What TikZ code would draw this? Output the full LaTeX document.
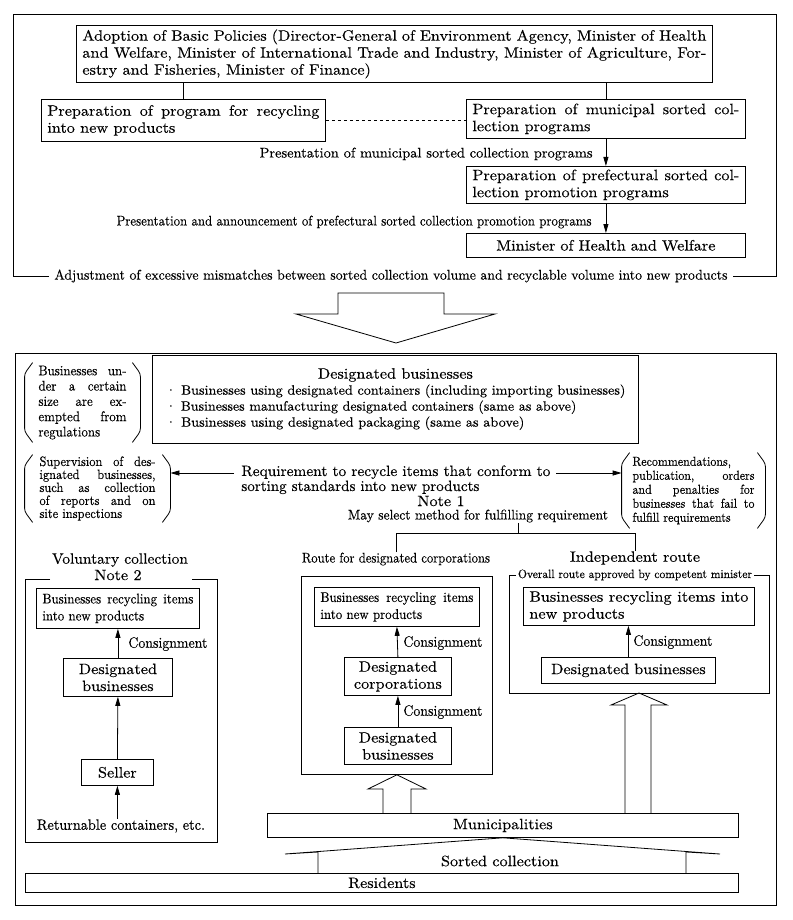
\documentclass[tikz,border=0pt]{standalone}
\usepackage{fontspec}
\usepackage{graphicx}
\usetikzlibrary{arrows.meta}
\setmainfont{lmroman10-regular.otf}[FakeStretch=1.08,FakeBold=0.25]
\newfontfamily\condf{lmroman10-regular.otf}[FakeStretch=0.92,FakeBold=0.25]
\hyphenpenalty=10000 \exhyphenpenalty=10000 \tolerance=10000
\newcommand\fs[2]{\fontsize{#1}{#2}\selectfont}
\newcommand\fitw[2]{\resizebox{#1pt}{\height}{#2}}
\newcommand\bx[7][]{%
  \pgfmathsetmacro\bxw{#5-(#3)}\pgfmathsetmacro\bxh{#6-(#4)}\pgfmathsetmacro\bxt{#5-(#3)-12}%
  \node[box,anchor=north west,minimum width=\bxw pt,minimum height=\bxh pt,text width=\bxt pt,#1] (#2) at (#3,#4) {#7};}
\newcommand\brk[1]{\draw[rounded corners=3pt] ([xshift=8pt]#1.north west) -- ([yshift=-11pt]#1.north west) -- ([yshift=11pt]#1.south west) -- ([xshift=8pt]#1.south west)
  ([xshift=-8pt]#1.north east) -- ([yshift=-11pt]#1.north east) -- ([yshift=11pt]#1.south east) -- ([xshift=-8pt]#1.south east);}
\begin{document}
\begin{tikzpicture}[x=1pt,y=-1pt,line width=0.8pt,
  box/.style={draw,inner xsep=6pt,inner ysep=0pt,font=\fs{15}{17},align=justify},
  lbl/.style={inner sep=0pt,font=\fs{15}{17}},
  brace/.style={inner sep=0pt,align=justify},
  arr/.style={-{Triangle[length=9pt,width=5pt]}}]
\useasboundingbox (0,0) rectangle (792,920);
% ---------- top part
\bx{adopt}{76}{25}{712}{82}{Adoption of Basic Policies (Director-General of Environment Agency, Minister of Health\linebreak and Welfare, Minister of International Trade and Industry, Minister of Agriculture, For-\linebreak estry and Fisheries, Minister of Finance)}
\bx{prog}{41}{99}{325}{141}{Preparation of program for recycling\linebreak into new products}
\bx{muni}{466}{99}{745}{138}{Preparation of municipal sorted col-\linebreak lection programs}
\bx{pref}{466}{166}{745}{203}{Preparation of prefectural sorted col-\linebreak lection promotion programs}
\bx[align=center]{mhw}{466}{233}{745}{257}{Minister of Health and Welfare}
\draw (adopt.south -| prog.north) -- (prog.north);
\draw (adopt.south -| muni.north) -- (muni.north);
\draw[dashed] (prog.east) -- (prog.east -| muni.west);
\draw[arr] (muni.south) -- (pref.north);
\draw[arr] (pref.south) -- (mhw.north);
\node[lbl,font=\fs{14}{16},anchor=east] (pm) at (593,154) {\fitw{333}{Presentation of municipal sorted collection programs}};
\node[lbl,font=\fs{14}{16},anchor=east] (pp) at (592,222) {\fitw{475}{Presentation and announcement of prefectural sorted collection promotion programs}};
\node[lbl,font=\fs{14}{16},inner xsep=5pt] (adj) at (391,276) {\fitw{673}{Adjustment of excessive mismatches between sorted collection volume and recyclable volume into new products}};
\draw (adj.west) -- (13,276) -- (13,14) -- (776,14) -- (776,276) -- (adj.east);
% big arrow
\draw (338,293) -- (444,293) -- (444,314) -- (495,314) -- (396,343) -- (296,314) -- (338,314) -- cycle;
% ---------- bottom frame
\draw (15,353) rectangle (776,905);
\node[brace,font=\condf\fs{14}{15.3},text width=88pt,minimum width=115pt,minimum height=79pt] (exempt) at (82.5,402.5)
  {Businesses un-\linebreak der a certain\linebreak size are ex-\linebreak empted from\linebreak regulations};
\brk{exempt}
\node[draw,anchor=north west,minimum width=486pt,minimum height=88pt,inner sep=0pt,font=\fs{13.5}{16}] (desig) at (152,355)
  {\begin{tabular}{@{}l@{}}\multicolumn{1}{@{}c@{}}{\fs{15}{16}Designated businesses}\\
   \fitw{460}{· Businesses using designated containers (including importing businesses)}\\
   \fitw{411}{· Businesses manufacturing designated containers (same as above)}\\
   \fitw{359}{· Businesses using designated packaging (same as above)}\end{tabular}};
\node[brace,font=\condf\fs{13.5}{13},text width=116pt,minimum width=145pt,minimum height=67pt] (sup) at (97.5,488.5)
  {Supervision of des-\linebreak ignated businesses,\linebreak such as collection\linebreak of reports and on\linebreak site inspections};
\brk{sup}
\node[brace,font=\condf\fs{13}{14},text width=122pt,minimum width=143pt,minimum height=75pt] (rec) at (693.5,490.5)
  {Recommendations,\newline publication, orders\linebreak and penalties for\linebreak businesses that fail to\linebreak fulfill requirements};
\brk{rec}
\node[lbl,anchor=north west,align=left,font=\fs{15}{15}] (req) at (241,465)
  {\fitw{309}{Requirement to recycle items that conform to}\\\fitw{238}{sorting standards into new products}};
\coordinate (reqL) at (234,473);
\coordinate (reqR) at (556,473);
\draw[arr] (reqL) -- (reqL -| sup.east);
\draw[arr] (reqR) -- (reqR -| rec.west);
\node[lbl] (n1) at (441,501) {Note 1};
\node[lbl,font=\fs{14}{16}] (may) at (478,516) {\fitw{260}{May select method for fulfilling requirement}};
\coordinate (sp) at (518,533);
\node[lbl,font=\fs{14}{16}] (rdc) at (396,559) {\fitw{188}{Route for designated corporations}};
\node[lbl] (ind) at (635,558) {Independent route};
\draw (may.south -| sp) -- (sp);
\draw (rdc.north) -- (rdc.north |- sp) -- (ind.north |- sp) -- (ind.north);
% voluntary collection
\node[lbl] (vol) at (120,560) {\fitw{136}{Voluntary collection}};
\node[lbl] (n2) at (118,575) {Note 2};
\draw (50,579) -- (25,579) -- (25,842) -- (217,842) -- (217,579) -- (192,579);
\bx[font=\condf\fs{14}{17}]{rb1}{36}{588}{199}{628}{Businesses recycling items\linebreak into new products}
\bx[align=center]{db1}{63}{658}{172}{696}{Designated\\businesses}
\bx[align=center]{sel}{81}{759}{153}{785}{Seller}
\node[lbl] (ret) at (121,826) {\fitw{168}{Returnable containers, etc.}};
\draw[arr] (db1.north) -- (rb1.south);
\draw[arr] (sel.north) -- (db1.south);
\draw[arr] (ret.north -| sel.south) -- (sel.south);
\node[lbl,anchor=west] (c1) at (128,644) {\fitw{79}{Consignment}};
% route for designated corporations
\node[draw,anchor=north west,minimum width=191pt,minimum height=198pt,inner sep=0pt] (rframe) at (301,576) {};
\bx[font=\condf\fs{14}{17}]{rb2}{314}{587}{479}{626}{Businesses recycling items\linebreak into new products}
\bx[align=center]{dc}{344}{657}{451}{695}{Designated\\corporations}
\bx[align=center]{db2}{344}{727}{451}{764}{Designated\\businesses}
\draw[arr] (dc.north) -- (rb2.south);
\draw[arr] (db2.north) -- (dc.south);
\node[lbl,anchor=west] (c2) at (403,643) {\fitw{79}{Consignment}};
\node[lbl,anchor=west] (c3) at (403,712) {\fitw{79}{Consignment}};
% independent route
\node[lbl,font=\fs{12}{14},inner xsep=1.5pt] (ovr) at (635,575) {\fitw{234}{Overall route approved by competent minister}};
\draw (ovr.west) -- (509,575) -- (509,693) -- (769,693) -- (769,575) -- (ovr.east);
\coordinate (indb) at (639,693);
\bx{rb3}{523}{587}{754}{625}{Businesses recycling items into\linebreak new products}
\bx[align=center]{db3}{541}{657}{715}{683}{Designated businesses}
\draw[arr] (db3.north) -- (db3.north |- rb3.south);
\node[lbl,anchor=west] (c4) at (633,642) {\fitw{79}{Consignment}};
% municipalities and residents
\bx[align=center]{mun}{267}{813}{738}{837}{Municipalities}
\bx[align=center]{res}{25}{873}{738}{892}{Residents}
\node[lbl] (sc) at (500,861) {Sorted collection};
\draw (383,813) -- (383,789) -- (368,789) -- (rframe.south) -- (426,789) -- (411,789) -- (411,813);
\draw (625,813) -- (625,705) -- (611,705) -- (indb) -- (667,705) -- (651,705) -- (651,813);
\draw (318,873) -- (318,852) -- (285,854) -- (mun.south) -- (720,854) -- (686,852) -- (686,873);
\end{tikzpicture}
\end{document}
